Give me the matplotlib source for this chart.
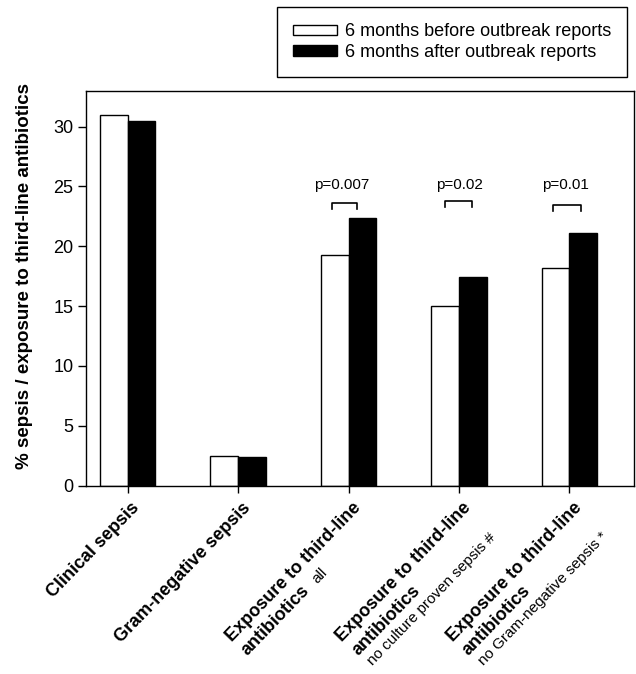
import matplotlib
matplotlib.use("Agg")
import matplotlib.pyplot as plt
from matplotlib.patches import Patch
from matplotlib.textpath import TextPath
from matplotlib.font_manager import FontProperties
import numpy as np

plt.rcParams['font.family'] = ['Liberation Sans', 'DejaVu Sans']

# ---------------- data ----------------
label_main = ["Clinical sepsis", "Gram-negative sepsis", "Exposure to third-line",
              "Exposure to third-line", "Exposure to third-line"]
label_second = ["", "", "antibiotics", "antibiotics", "antibiotics"]
label_note = ["", "", "all", "no culture proven sepsis #", "no Gram-negative sepsis *"]

before = [31.0, 2.45, 19.3, 15.0, 18.2]
after = [30.45, 2.4, 22.4, 17.4, 21.1]

p_groups = [2, 3, 4]
p_labels = ["p=0.007", "p=0.02", "p=0.01"]
p_bracket_top = [23.6, 23.75, 23.45]
p_bracket_left = [-0.15, -0.13, -0.15]
p_bracket_right = [0.08, 0.12, 0.10]
p_text_dx = [-0.06, 0.0, -0.04]

legend_labels = ["6 months before outbreak reports", "6 months after outbreak reports"]
ylabel = "% sepsis / exposure to third-line antibiotics"

# ---------------- plot ----------------
fig = plt.figure(figsize=(6.36, 6.74), dpi=100)
ax = fig.add_axes([0.136, 0.2794, 0.861, 0.586])

x = np.arange(len(before))
w = 0.25
ax.bar(x - w / 2, before, w, color="white", edgecolor="black", linewidth=1.0)
ax.bar(x + w / 2, after, w, color="black", edgecolor="black", linewidth=1.0)

ax.set_xlim(-0.372, 4.585)
ax.set_ylim(0, 33)
ax.set_yticks([0, 5, 10, 15, 20, 25, 30])
ax.tick_params(axis="y", labelsize=13, length=6, width=1, direction="out")
ax.set_xticks(x)
ax.set_xticklabels([""] * len(x))
ax.tick_params(axis="x", length=5, width=1, direction="out")
for sp in ax.spines.values():
    sp.set_linewidth(1.0)

ax.set_ylabel(ylabel, fontsize=13.5, fontweight="bold")
ax.yaxis.set_label_coords(-0.097, 0.53)

# p-value brackets
drop = 0.5
for g, lab, top, l, r, tdx in zip(p_groups, p_labels, p_bracket_top,
                                  p_bracket_left, p_bracket_right, p_text_dx):
    ax.plot([g + l, g + l, g + r, g + r], [top - drop, top, top, top - drop],
            color="black", linewidth=1.2)
    ax.text(g + tdx, 25.1, lab, ha="center", va="center", fontsize=11)

# rotated category labels
rot = 46
c = np.cos(np.radians(rot))
s = np.sin(np.radians(rot))
fs_big = 13
fs_small = 11
fp_big = FontProperties(family="Liberation Sans", weight="bold", size=fs_big)
fp_small = FontProperties(family="Liberation Sans", size=fs_small)


def width(txt, fp):
    return TextPath((0, 0), txt, prop=fp).get_extents().width


ox, oy = 2.5, -10.0
L = 15.0
for i in range(len(x)):
    kw = dict(xy=(i, 0), xycoords=("data", "axes fraction"), textcoords="offset points",
              rotation=rot, rotation_mode="anchor", annotation_clip=False)
    ax.annotate(label_main[i], xytext=(ox, oy), ha="right", va="top",
                fontsize=fs_big, fontweight="bold", **kw)
    w1 = width(label_main[i], fp_big)
    tl1 = np.array([ox - w1 * c, oy - w1 * s])
    nvec = np.array([s, -c])
    uvec = np.array([c, s])
    if label_second[i]:
        tl2 = tl1 + L * nvec
        ax.annotate(label_second[i], xytext=tuple(tl2), ha="left", va="top",
                    fontsize=fs_big, fontweight="bold", **kw)
        if label_note[i] == "all":
            w2 = width(label_second[i], fp_big)
            p = tl2 + (w2 + 8) * uvec + 1.0 * nvec
            ax.annotate(label_note[i], xytext=tuple(p), ha="left", va="top",
                        fontsize=fs_small, **kw)
        elif label_note[i]:
            p = tl1 + 1.95 * L * nvec + 2 * uvec
            ax.annotate(label_note[i], xytext=tuple(p), ha="left", va="top",
                        fontsize=fs_small, **kw)

handles = [Patch(facecolor="white", edgecolor="black", linewidth=1.0),
           Patch(facecolor="black", edgecolor="black", linewidth=1.0)]
leg = fig.legend(handles, legend_labels, loc="upper left",
                 bbox_to_anchor=(277 / 636, 1 - 7 / 674), fontsize=13,
                 frameon=True, fancybox=False, edgecolor="black", framealpha=1,
                 borderpad=0.9, handlelength=2.4, handleheight=0.5,
                 handletextpad=0.45, labelspacing=0.2, borderaxespad=0)
leg.get_frame().set_linewidth(1.0)

fig.savefig("out.png", dpi=100)
